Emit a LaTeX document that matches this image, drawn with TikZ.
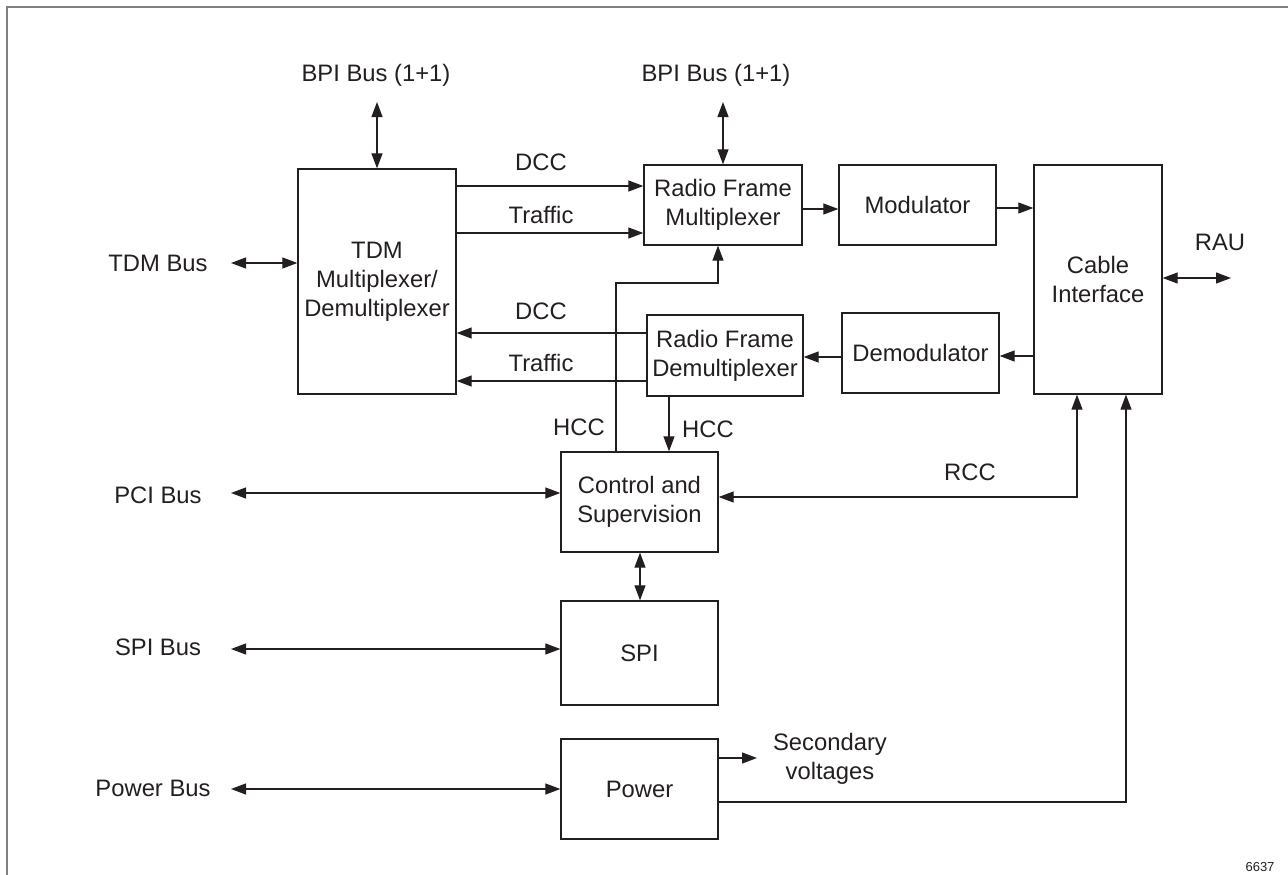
\documentclass[tikz,border=0pt]{standalone}
\usepackage{fontspec}
\setmainfont{Liberation Sans}
\usetikzlibrary{arrows.meta}
\definecolor{ink}{HTML}{231F20}
\definecolor{framegray}{HTML}{808080}
\begin{document}
\begin{tikzpicture}[x=1pt,y=-1pt,
  >={Triangle[length=15pt,width=11pt]},
  font=\fontsize{23.8}{29}\selectfont,
  box/.style={draw=ink, line width=1.3pt, align=center, text=ink, inner sep=0pt},
  lbl/.style={text=ink, inner sep=0pt, align=center},
  conn/.style={draw=ink, line width=1.2pt}]
\useasboundingbox (0,0) rectangle (1288,875);
\draw[framegray, line width=2pt] (7,875) -- (7,7) -- (1288,7);

% boxes
\node[box, minimum width=158pt, minimum height=225pt] (tdm) at (377,281.5) {TDM\\Multiplexer/\\Demultiplexer};
\node[box, minimum width=158pt, minimum height=80pt] (rfm) at (723,205) {Radio Frame\\Multiplexer};
\node[box, minimum width=157pt, minimum height=80pt] (mod) at (917.5,205) {Modulator};
\node[box, minimum width=128pt, minimum height=229pt] (cab) at (1098,279.5) {Cable\\Interface};
\node[box, minimum width=156pt, minimum height=81pt] (rfd) at (725,355.5) {Radio Frame\\Demultiplexer};
\node[box, minimum width=157pt, minimum height=80pt] (dem) at (920.5,353) {Demodulator};
\node[box, minimum width=157pt, minimum height=100pt] (ctl) at (639.5,502) {Control and\\Supervision};
\node[box, minimum width=157pt, minimum height=104pt] (spi) at (639.5,653) {SPI};
\node[box, minimum width=157pt, minimum height=100pt] (pwr) at (639.5,789) {Power};

% labels
\node[lbl] (bpi1) at (376,75) {BPI Bus (1+1)};
\node[lbl] (bpi2) at (716,75) {BPI Bus (1+1)};
\node[lbl] (tdmbus) at (158,263) {TDM Bus};
\node[lbl] (pcibus) at (158,495) {PCI Bus};
\node[lbl] (spibus) at (158,647) {SPI Bus};
\node[lbl] (pwrbus) at (153,788) {Power Bus};
\node[lbl] (rau) at (1220,242) {RAU};
\node[lbl] (dccf) at (541,162) {DCC};
\node[lbl] (trff) at (541,215) {Traffic};
\node[lbl] (dccb) at (541,311) {DCC};
\node[lbl] (trfb) at (541,363) {Traffic};
\node[lbl] (hccl) at (579,427) {HCC};
\node[lbl] (hccr) at (708,429) {HCC};
\node[lbl] (rcc) at (970,472) {RCC};
\node[lbl] (secv) at (830,759) {Secondary\\voltages};
\node[lbl, font=\fontsize{13}{13}\selectfont] (num) at (1260,867) {6637};

% free ends
\coordinate (b1) at (377,102);
\coordinate (b2) at (723,102);
\coordinate (tdme) at (231,263);
\coordinate (pcie) at (231,493);
\coordinate (spie) at (231,649);
\coordinate (pwre) at (231,789);
\coordinate (raue) at (1231,278);
\coordinate (sve) at (757,758);

% connectors
\draw[conn,<->] (b1) -- (tdm.north);
\draw[conn,<->] (b2) -- (rfm.north);
\draw[conn,->] (tdm.east |- 0,186) -- (rfm.west |- 0,186);
\draw[conn,->] (tdm.east |- 0,233) -- (rfm.west |- 0,233);
\draw[conn,->] (rfm.east |- 0,209) -- (mod.west |- 0,209);
\draw[conn,->] (mod.east |- 0,208) -- (cab.west |- 0,208);
\draw[conn,<->] (cab.east |- 0,278) -- (raue);
\draw[conn,<->] (tdme) -- (tdm.west |- 0,263);
\draw[conn,->] (cab.west |- 0,356) -- (dem.east |- 0,356);
\draw[conn,->] (dem.west |- 0,357) -- (rfd.east |- 0,357);
\draw[conn,->] (rfd.west |- 0,333) -- (tdm.east |- 0,333);
\draw[conn,->] (rfd.west |- 0,381) -- (tdm.east |- 0,381);
\draw[conn,->] (ctl.north -| 616,0) |- (718,283) -- (rfm.south -| 718,0);
\draw[conn,->] (rfd.south -| 669,0) -- (ctl.north -| 669,0);
\draw[conn,<->] (ctl.east |- 0,497) -| (cab.south -| 1077,0);
\draw[conn,->] (pwr.east |- 0,802) -| (cab.south -| 1126,0);
\draw[conn,->] (pwr.east |- 0,758) -- (sve);
\draw[conn,<->] (pcie) -- (ctl.west |- 0,493);
\draw[conn,<->] (spie) -- (spi.west |- 0,649);
\draw[conn,<->] (pwre) -- (pwr.west |- 0,789);
\draw[conn,<->] (ctl.south -| 640,0) -- (spi.north -| 640,0);
\end{tikzpicture}
\end{document}
